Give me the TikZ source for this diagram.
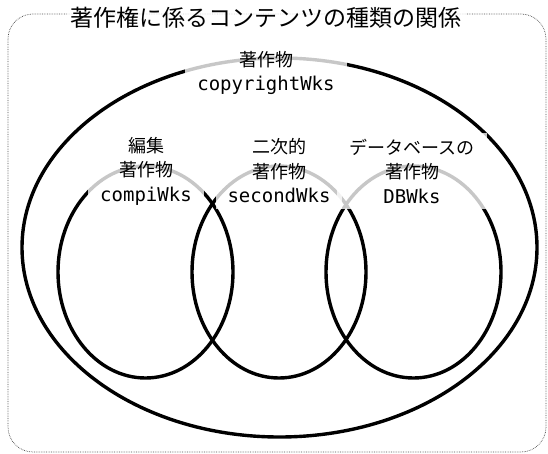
\documentclass[tikz,border=0pt]{standalone}
\usepackage{fontspec}
\newfontfamily\jp{Noto Sans CJK JP}
\newfontfamily\mono{DejaVu Sans Mono}
\begin{document}
\begin{tikzpicture}[x=1pt,y=-1pt,
  venn/.style={line width=3.4pt, black},
  frame/.style={densely dotted, line width=0.7pt, black!70, rounded corners=25pt},
  lab/.style={fill=white, fill opacity=0.78, text opacity=1, align=center,
    inner xsep=12pt, inner ysep=6pt, font=\fontsize{18}{24.5}\selectfont},
  ttl/.style={fill=white, fill opacity=0.78, text opacity=1, inner xsep=4pt, inner ysep=1pt,
    font=\jp\fontsize{23}{26}\selectfont},
  lat/.style={}
]
\useasboundingbox (0,0) rectangle (548,454);
% frame
\draw[frame] (8,14) rectangle (546,452);
% ellipses
\draw[venn] (279.5,247.5) ellipse [x radius=257.5pt, y radius=189.5pt];
\draw[venn] (145.5,272) ellipse [x radius=87.5pt, y radius=106pt];
\draw[venn] (279,272) ellipse [x radius=87pt, y radius=106pt];
\draw[venn] (413.5,272) ellipse [x radius=87.5pt, y radius=106pt];
% title
\node[ttl] (title) at (266,18) {著作権に係るコンテンツの種類の関係};
% labels
\newcommand\lt[1]{{\mono\fontsize{19}{24.5}\selectfont #1}}
\node[lab] (copy) at (266,73) {{\jp 著作物}\\\lt{copyrightWks}};
\node[lab] (compi) at (146,171) {{\jp 編集}\\{\jp 著作物}\\\lt{compiWks}};
\node[lab] (second) at (279,171) {{\jp 二次的}\\{\jp 著作物}\\\lt{secondWks}};
\node[lab] (db) at (412,171) {{\jp データベースの}\\{\jp 著作物}\\\lt{DBWks}};
\end{tikzpicture}
\end{document}
